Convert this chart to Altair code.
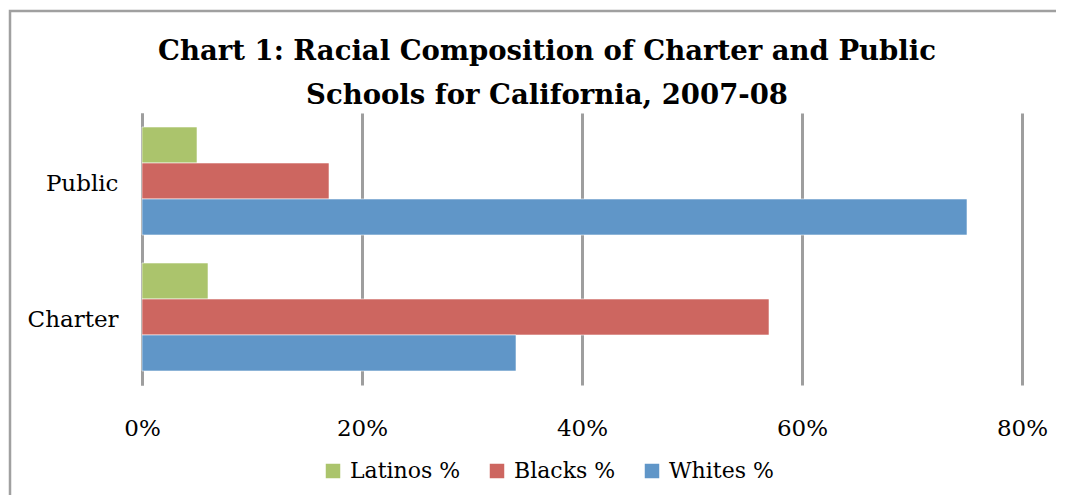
import altair as alt
import pandas as pd

categories = ["Public", "Charter"]
series = ["Latinos %", "Blacks %", "Whites %"]
latinos = [5, 6]
blacks = [17, 57]
whites = [75, 34]
colors = ["#ABC46C", "#CD6660", "#6096C8"]
ticks = [0, 20, 40, 60, 80]

rows = []
for i, c in enumerate(categories):
    for s, vals in zip(series, [latinos, blacks, whites]):
        rows.append({"school": c, "group": s, "value": vals[i]})
df = pd.DataFrame(rows)

FONT = "DejaVu Serif"

frame = alt.Chart(pd.DataFrame({"k": [0]})).mark_rect(
    fill=None, stroke="#a0a0a0", strokeWidth=2.5, clip=False
).encode(
    x=alt.value(-132), x2=alt.value(1100),
    y=alt.value(-102), y2=alt.value(500)
)

bars = alt.Chart(df).mark_bar(
    stroke="#ffffff", strokeWidth=0.8, strokeOpacity=0.7
).encode(
    x=alt.X("value:Q",
            scale=alt.Scale(domain=[0, 80], nice=False, zero=True),
            axis=alt.Axis(values=ticks, labelExpr="datum.value + '%'", title=None,
                          grid=True, gridColor="#9e9e9e", gridWidth=3,
                          domain=False, ticks=False, tickSize=0, labelFlush=False,
                          labelFont=FONT, labelFontSize=23, labelColor="#000000",
                          labelPadding=32)),
    y=alt.Y("school:N", sort=categories,
            scale=alt.Scale(paddingInner=0.206, paddingOuter=0.103),
            axis=alt.Axis(title=None, domain=True, domainColor="#9e9e9e", domainWidth=3,
                          ticks=False, tickSize=0, grid=False,
                          labelFont=FONT, labelFontSize=23, labelColor="#000000",
                          labelPadding=24, labelOffset=3)),
    yOffset=alt.YOffset("group:N", sort=series, scale=alt.Scale(paddingInner=0, paddingOuter=0)),
    color=alt.Color("group:N", sort=series,
                    scale=alt.Scale(domain=series, range=colors),
                    legend=alt.Legend(title=None, orient="none", direction="horizontal",
                                      legendX=180, legendY=347, columns=3,
                                      symbolType="square", symbolSize=210, symbolStrokeWidth=0,
                                      labelFont=FONT, labelFontSize=22, labelColor="#000000",
                                      labelOffset=6, columnPadding=25)),
)

chart = alt.layer(frame, bars).properties(
    width=880, height=272,
    padding={"left": 134, "top": 105, "right": 34, "bottom": 110},
    autosize=alt.AutoSizeParams(type="none"),
    title=alt.TitleParams(
        text=["Chart 1: Racial Composition of Charter and Public",
              "Schools for California, 2007-08"],
        font=FONT, fontSize=27.5, fontWeight="bold", color="#000000",
        anchor="middle", dx=-35, dy=110, lineHeight=44, offset=10,
    ),
).configure_view(stroke=None)

chart.save("out.html", embed_options={"renderer": "svg", "actions": False})
